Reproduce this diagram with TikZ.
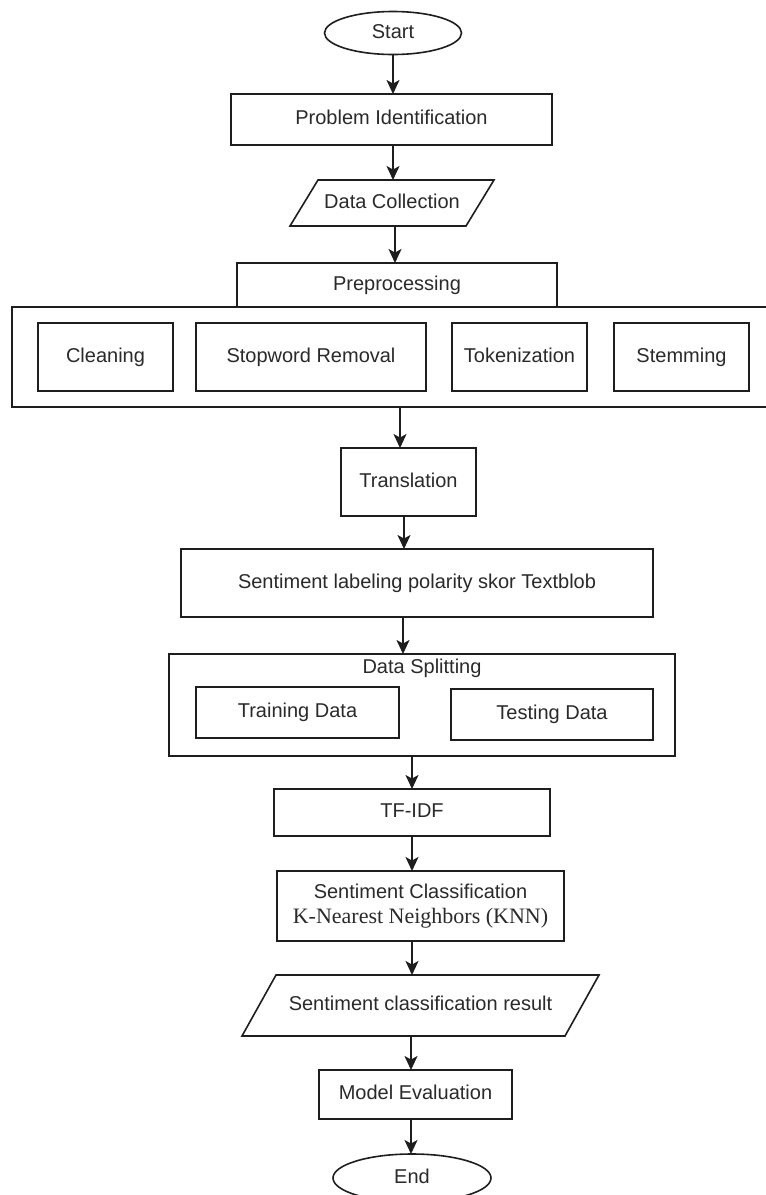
\documentclass[tikz,border=0pt]{standalone}
\usepackage{fontspec}
\setmainfont{Liberation Sans}
\newfontfamily\tnr{Liberation Serif}
\usetikzlibrary{shapes.geometric,arrows.meta,calc}
\definecolor{txt}{HTML}{2A2A2A}
\definecolor{ln}{HTML}{1E1E1E}
\tikzset{
  plain/.style={inner sep=0pt, outer sep=0pt, text=txt, font=\fontsize{20}{24}\selectfont},
  base/.style={plain, text height=14.5pt, text depth=4.5pt},
  box/.style={base, draw=ln, line width=1.6pt, rectangle},
  ghost/.style={base, rectangle},
  oval/.style={base, draw=ln, line width=1.6pt, ellipse},
  edge/.style={draw=ln, line width=1.6pt},
  arr/.style={draw=ln, line width=1.6pt, -{Stealth[length=14pt,width=13pt,inset=3.5pt]}},
}
\begin{document}
\begin{tikzpicture}[x=1pt,y=-1pt]
\useasboundingbox[fill=white] (0,0) rectangle (766,1195);
\clip (0,0) rectangle (766,1195);

% Start
\node[oval, minimum width=137pt, minimum height=43pt] (start) at (393,33) {Start};
% Problem Identification
\node[box, minimum width=321pt, minimum height=51pt] (prob) at (391.5,119.5) {Problem Identification};
% Data Collection (parallelogram)
\node[ghost, minimum width=176pt, minimum height=46pt] (dc) at (392,203) {Data Collection};
\draw[edge] ([xshift=14pt]dc.north west) -- ([xshift=14pt]dc.north east)
  -- ([xshift=-14pt]dc.south east) -- ([xshift=-14pt]dc.south west) -- cycle;

% Preprocessing
\node[box, minimum width=768pt, minimum height=100pt] (outer) at (396,357) {};
\node[box, minimum width=320pt, minimum height=44pt] (pre) at (397,285) {Preprocessing};
\node[box, minimum width=135pt, minimum height=68pt] (clean) at (105.5,357) {Cleaning};
\node[box, minimum width=230pt, minimum height=68pt] (stop) at (311,357) {Stopword Removal};
\node[box, minimum width=135pt, minimum height=68pt] (tok) at (519.5,357) {Tokenization};
\node[box, minimum width=135pt, minimum height=68pt] (stem) at (681.5,357) {Stemming};

% Translation
\node[box, minimum width=135pt, minimum height=68pt] (trans) at (408.5,482) {Translation};
% Sentiment labeling
\node[box, minimum width=472pt, minimum height=68pt] (senti) at (417,583) {Sentiment labeling polarity skor Textblob};

% Data Splitting
\node[box, minimum width=506pt, minimum height=102pt] (split) at (422,705) {};
\node[ghost] (splitlbl) at (422,668) {Data Splitting};
\node[box, minimum width=203pt, minimum height=51pt] (train) at (297.5,712.5) {Training Data};
\node[box, minimum width=202pt, minimum height=51pt] (test) at (552,714.5) {Testing Data};

% TF-IDF
\node[box, minimum width=276pt, minimum height=47pt] (tfidf) at (412,812.5) {TF-IDF};
% KNN
\node[plain, draw=ln, line width=1.6pt, rectangle, minimum width=287pt, minimum height=70pt, align=center] (knn) at (420.5,906)
  {Sentiment Classification\\[1pt]{\tnr\fontsize{22}{24}\selectfont K-Nearest Neighbors (KNN)}};
% Result (parallelogram)
\node[ghost, minimum width=323pt, minimum height=61pt] (res) at (420.5,1005.5) {Sentiment classification result};
\draw[edge] ([xshift=17pt]res.north west) -- ([xshift=17pt]res.north east)
  -- ([xshift=-17pt]res.south east) -- ([xshift=-17pt]res.south west) -- cycle;
% Model Evaluation
\node[box, minimum width=193pt, minimum height=49pt] (eval) at (415.5,1094.5) {Model Evaluation};
% End
\node[oval, minimum width=158pt, minimum height=48pt] (end) at (412,1178) {End};

% Connectors
\draw[arr] (start.south) -- (start.south |- prob.north);
\draw[arr] ([xshift=1pt]dc.north |- prob.south) -- ([xshift=1pt]dc.north);
\draw[arr] ([xshift=-2pt]pre.north |- dc.south) -- ([xshift=-2pt]pre.north);
\draw[arr] ([xshift=-8.5pt]trans.north |- outer.south) -- ([xshift=-8.5pt]trans.north);
\draw[arr] ([xshift=-4.5pt]trans.south) -- ([xshift=-4.5pt]trans.south |- senti.north);
\draw[arr] ([xshift=-14pt]senti.south) -- ([xshift=-14pt]senti.south |- split.north);
\draw[arr] (tfidf.north |- split.south) -- (tfidf.north);
\draw[arr] (tfidf.south) -- (tfidf.south |- knn.north);
\draw[arr] ([xshift=-8.5pt]knn.south) -- ([xshift=-8.5pt]knn.south |- res.north);
\draw[arr] ([xshift=-4.5pt]eval.north |- res.south) -- ([xshift=-4.5pt]eval.north);
\draw[arr] ([xshift=-4.5pt]eval.south) -- ([xshift=-4.5pt]eval.south |- end.north);
\end{tikzpicture}
\end{document}
